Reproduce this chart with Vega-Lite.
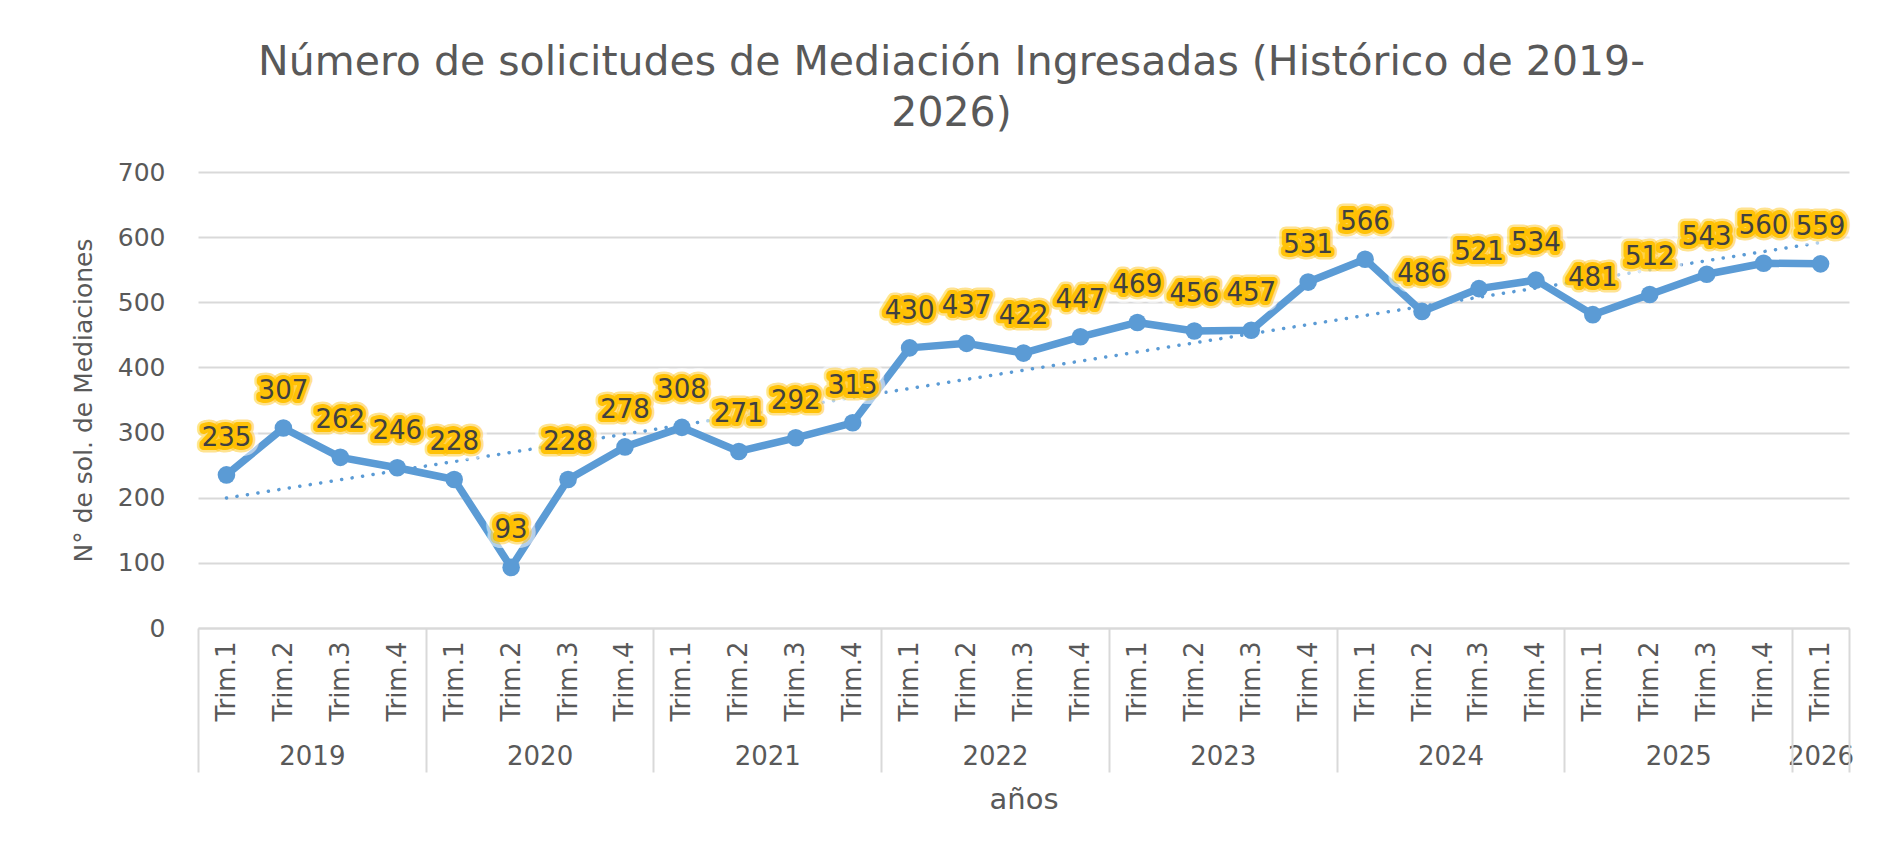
{
  "$schema": "https://vega.github.io/schema/vega-lite/v6.json",
  "autosize": {"type": "none"},
  "width": 1651,
  "height": 456,
  "padding": {"left": 198, "top": 172, "right": 44, "bottom": 218},
  "background": "white",
  "datasets": {
    "q": [
      {"n": 0, "year": 2019, "trim": 1, "value": 235},
      {"n": 1, "year": 2019, "trim": 2, "value": 307},
      {"n": 2, "year": 2019, "trim": 3, "value": 262},
      {"n": 3, "year": 2019, "trim": 4, "value": 246},
      {"n": 4, "year": 2020, "trim": 1, "value": 228},
      {"n": 5, "year": 2020, "trim": 2, "value": 93},
      {"n": 6, "year": 2020, "trim": 3, "value": 228},
      {"n": 7, "year": 2020, "trim": 4, "value": 278},
      {"n": 8, "year": 2021, "trim": 1, "value": 308},
      {"n": 9, "year": 2021, "trim": 2, "value": 271},
      {"n": 10, "year": 2021, "trim": 3, "value": 292},
      {"n": 11, "year": 2021, "trim": 4, "value": 315},
      {"n": 12, "year": 2022, "trim": 1, "value": 430},
      {"n": 13, "year": 2022, "trim": 2, "value": 437},
      {"n": 14, "year": 2022, "trim": 3, "value": 422},
      {"n": 15, "year": 2022, "trim": 4, "value": 447},
      {"n": 16, "year": 2023, "trim": 1, "value": 469},
      {"n": 17, "year": 2023, "trim": 2, "value": 456},
      {"n": 18, "year": 2023, "trim": 3, "value": 457},
      {"n": 19, "year": 2023, "trim": 4, "value": 531},
      {"n": 20, "year": 2024, "trim": 1, "value": 566},
      {"n": 21, "year": 2024, "trim": 2, "value": 486},
      {"n": 22, "year": 2024, "trim": 3, "value": 521},
      {"n": 23, "year": 2024, "trim": 4, "value": 534},
      {"n": 24, "year": 2025, "trim": 1, "value": 481},
      {"n": 25, "year": 2025, "trim": 2, "value": 512},
      {"n": 26, "year": 2025, "trim": 3, "value": 543},
      {"n": 27, "year": 2025, "trim": 4, "value": 560},
      {"n": 28, "year": 2026, "trim": 1, "value": 559}
    ]
  },
  "data": {"name": "q"},
  "title": {
    "text": ["Número de solicitudes de Mediación Ingresadas (Histórico de 2019-", "2026)"],
    "anchor": "middle",
    "frame": "group",
    "dx": -72,
    "fontSize": 41,
    "font": "DejaVu Sans",
    "fontWeight": "normal",
    "color": "#595959",
    "lineHeight": 51,
    "offset": 25
  },
  "layer": [
    {
      "encoding": {
        "x": {
          "field": "n",
          "type": "quantitative",
          "scale": {"domain": [-0.5, 28.5], "nice": false, "zero": false},
          "axis": {
            "orient": "bottom",
            "values": [0,1,2,3,4,5,6,7,8,9,10,11,12,13,14,15,16,17,18,19,20,21,22,23,24,25,26,27,28],
            "labelExpr": "'Trim.' + ((datum.value % 4) + 1)",
            "labelAngle": -90,
            "labelAlign": "right",
            "labelBaseline": "middle",
            "labelPadding": 13,
            "labelFontSize": 26,
            "labelColor": "#595959",
            "labelOverlap": false,
            "labelFlush": false,
            "labelBound": false,
            "ticks": false,
            "tickSize": 0,
            "grid": false,
            "domain": true,
            "domainColor": "#d9d9d9",
            "domainWidth": 2,
            "title": null
          }
        },
        "y": {
          "field": "value",
          "type": "quantitative",
          "scale": {"domain": [0, 700], "nice": false},
          "axis": {
            "values": [0, 100, 200, 300, 400, 500, 600, 700],
            "grid": true,
            "gridColor": "#d9d9d9",
            "gridWidth": 2,
            "domain": false,
            "ticks": false,
            "tickSize": 0,
            "labelPadding": 33,
            "labelFontSize": 25,
            "labelColor": "#595959",
            "title": "N° de sol. de Mediaciones",
            "titleFontSize": 25,
            "titleFontWeight": "normal",
            "titleColor": "#595959",
            "titlePadding": 21
          }
        }
      },
      "layer": [
        {
          "transform": [{"regression": "value", "on": "n"}],
          "mark": {"type": "line", "color": "#5B9BD5", "strokeWidth": 3.5, "strokeDash": [0.1, 10.5], "strokeCap": "round"}
        },
        {
          "mark": {"type": "line", "color": "#5B9BD5", "strokeWidth": 7.5, "strokeJoin": "round"}
        },
        {
          "mark": {"type": "circle", "color": "#5B9BD5", "size": 310, "opacity": 1}
        },
        {
          "mark": {"type": "text", "dy": -37, "baseline": "middle", "fontSize": 26, "fill": "#FFFFFF", "stroke": "#FFFFFF", "strokeWidth": 20, "strokeOpacity": 0.55, "strokeJoin": "round"},
          "encoding": {"text": {"field": "value", "type": "quantitative"}}
        },
        {
          "mark": {"type": "text", "dy": -37, "baseline": "middle", "fontSize": 26, "fill": "#FFC000", "stroke": "#FFC000", "strokeWidth": 13, "strokeOpacity": 0.45, "strokeJoin": "round"},
          "encoding": {"text": {"field": "value", "type": "quantitative"}}
        },
        {
          "mark": {"type": "text", "dy": -37, "baseline": "middle", "fontSize": 26, "fill": "#FFC000", "stroke": "#FFC000", "strokeWidth": 8, "strokeOpacity": 0.95, "strokeJoin": "round"},
          "encoding": {"text": {"field": "value", "type": "quantitative"}}
        },
        {
          "mark": {"type": "text", "dy": -37, "baseline": "middle", "fontSize": 26, "fill": "#404040"},
          "encoding": {"text": {"field": "value", "type": "quantitative"}}
        }
      ]
    },
    {
      "mark": {"type": "point", "opacity": 0},
      "encoding": {
        "x": {
          "field": "n",
          "type": "quantitative",
          "scale": {"domain": [-0.5, 28.5], "nice": false, "zero": false},
          "axis": {
            "orient": "bottom",
            "values": [1.5, 5.5, 9.5, 13.5, 17.5, 21.5, 25.5, 28],
            "labelExpr": "'' + (2019 + floor(datum.value / 4))",
            "labelAngle": 0,
            "labelBaseline": "top",
            "labelPadding": 115,
            "labelFontSize": 26,
            "labelColor": "#595959",
            "labelOverlap": false,
            "labelFlush": false,
            "labelBound": false,
            "ticks": false,
            "tickSize": 0,
            "grid": false,
            "domain": false,
            "title": null
          }
        }
      }
    },
    {
      "mark": {"type": "point", "opacity": 0},
      "encoding": {
        "x": {
          "field": "n",
          "type": "quantitative",
          "scale": {"domain": [-0.5, 28.5], "nice": false, "zero": false},
          "axis": {
            "orient": "bottom",
            "values": [-0.5, 3.5, 7.5, 11.5, 15.5, 19.5, 23.5, 27.5, 28.5],
            "labels": false,
            "ticks": true,
            "tickSize": 144,
            "tickColor": "#d9d9d9",
            "tickWidth": 2,
            "grid": false,
            "domain": false,
            "title": "años",
            "titleFontSize": 29,
            "titleFontWeight": "normal",
            "titleColor": "#595959",
            "titlePadding": 12
          }
        }
      }
    }
  ],
  "resolve": {"scale": {"x": "independent"}, "axis": {"x": "independent"}},
  "config": {
    "font": "DejaVu Sans",
    "view": {"stroke": null}
  }
}
